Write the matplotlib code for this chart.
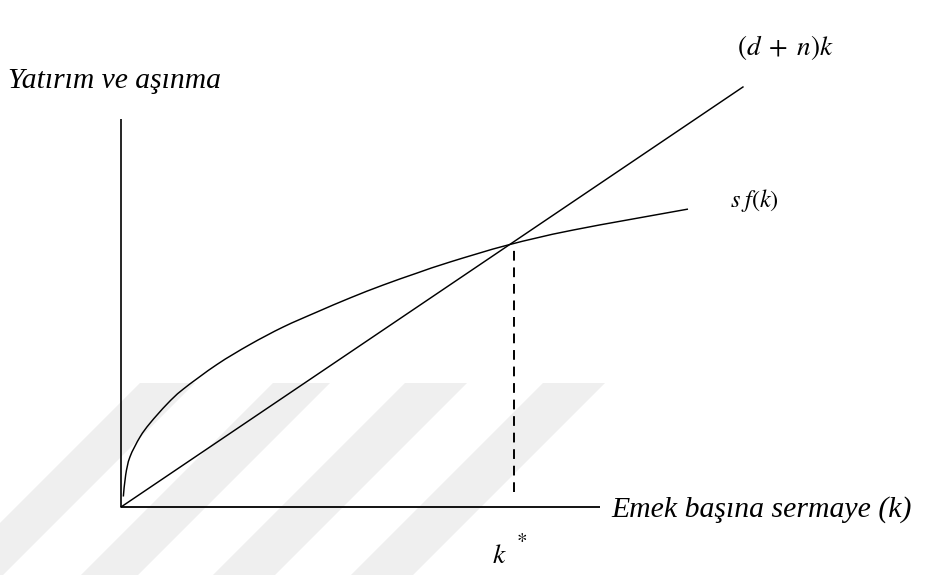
import matplotlib
matplotlib.use("Agg")
import matplotlib.pyplot as plt
from matplotlib.patches import Polygon, PathPatch
from matplotlib.path import Path
from matplotlib.transforms import IdentityTransform

plt.rcParams['mathtext.fontset'] = 'stix'

# ---- data (k* and steady-state level normalised to 1) ----
k_curve = [0.006, 0.012, 0.023, 0.049, 0.075, 0.119, 0.160, 0.248, 0.333,
           0.419, 0.506, 0.592, 0.677, 0.765, 0.850, 1.000, 1.168, 1.465]
sf_curve = [0.040, 0.122, 0.191, 0.267, 0.320, 0.393, 0.449, 0.544, 0.620,
            0.687, 0.744, 0.798, 0.847, 0.893, 0.935, 1.000, 1.057, 1.137]
k_line = [0.0, 1.607]
dep_line = [0.0, 1.603]
k_star = 1.016
k_axis_max = 1.238
y_axis_max = 1.481
dash_bottom = 0.057
dash_top = 1.0

W, H = 938, 575
fig = plt.figure(figsize=(W / 100, H / 100), dpi=100)
ax = fig.add_axes([0, 0, 1, 1])
ax.set_xlim(-0.3127, 2.111)
ax.set_ylim(-0.2595, 1.935)
ax.set_autoscale_on(False)
ax.axis('off')

# faint diagonal watermark stripes (display pixels, origin bottom-left)
wm = '#efefef'
L = 192
for x0, x1 in [(140, 195), (273, 330), (405, 467), (543, 605)]:
    pts = [(x0, H - 383), (x1, H - 383), (x1 - L, H - 383 - L), (x0 - L, H - 383 - L)]
    ax.add_patch(Polygon(pts, closed=True, facecolor=wm, edgecolor='none',
                         transform=IdentityTransform(), zorder=0))

# axes lines
ax.plot([0, 0], [0, y_axis_max], color='black', lw=1.2, solid_capstyle='butt', zorder=3)
ax.plot([0, k_axis_max], [0, 0], color='black', lw=1.3, solid_capstyle='butt', zorder=3)

# smooth curve through the read points (Catmull-Rom drawn as cubic Bezier)
pts = list(zip(k_curve, sf_curve))
verts = [pts[0]]
codes = [Path.MOVETO]
n = len(pts)
for i in range(n - 1):
    p0 = pts[i - 1] if i > 0 else pts[i]
    p1 = pts[i]
    p2 = pts[i + 1]
    p3 = pts[i + 2] if i + 2 < n else pts[i + 1]
    c1 = (p1[0] + (p2[0] - p0[0]) / 6, p1[1] + (p2[1] - p0[1]) / 6)
    c2 = (p2[0] - (p3[0] - p1[0]) / 6, p2[1] - (p3[1] - p1[1]) / 6)
    verts += [c1, c2, p2]
    codes += [Path.CURVE4] * 3
ax.add_patch(PathPatch(Path(verts, codes), facecolor='none', edgecolor='black',
                       lw=1.05, zorder=3))

ax.plot(k_line, dep_line, color='black', lw=1.05, zorder=3)
ax.plot([k_star, k_star], [dash_bottom, dash_top], color='black', lw=1.4,
        dashes=(5, 3.5), zorder=3)

# labels
ax.text(0.009, 0.86, 'Yatırım ve aşınma', transform=fig.transFigure,
        family='Liberation Serif', style='italic', fontsize=21.3, va='center', ha='left')
ax.text(0.652, 0.113, 'Emek başına sermaye (k)', transform=fig.transFigure,
        family='Liberation Serif', style='italic', fontsize=21.4, va='center', ha='left')
ax.text(0.786, 0.918, r'$(d\;+\;n)k$', transform=fig.transFigure, fontsize=19.5,
        va='center', ha='left')
ax.text(0.778, 0.652, r'$s\;f(k)$', transform=fig.transFigure, fontsize=17.5,
        va='center', ha='left')
ax.text(0.524, 0.035, r'$k$', transform=fig.transFigure, fontsize=20,
        va='center', ha='left')
ax.text(0.550, 0.063, r'$*$', transform=fig.transFigure, fontsize=15,
        va='center', ha='left')

fig.savefig('out.png', dpi=100)
